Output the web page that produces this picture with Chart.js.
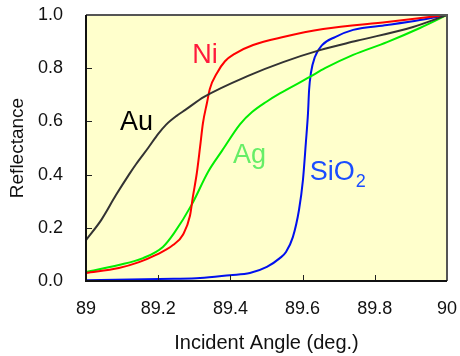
<!DOCTYPE html>
<html>
<head>
<meta charset="utf-8">
<script src="https://cdn.jsdelivr.net/npm/chart.js@4.4.0/dist/chart.umd.min.js"></script>
<style>
  body { margin: 0; background: #fff; }
  canvas { display: block; }
</style>
</head>
<body>
<canvas id="myChart" width="460" height="356"></canvas>
<script>
// values
const xTicks = [89, 89.2, 89.4, 89.6, 89.8, 90];
const yTicks = [0, 0.2, 0.4, 0.6, 0.8, 1.0];

const auX = [89.00, 89.042, 89.083, 89.119, 89.139, 89.172, 89.20, 89.222, 89.25, 89.277, 89.327, 89.454, 89.546, 89.648, 89.75, 89.906, 90.00];
const auY = [0.154, 0.229, 0.323, 0.40, 0.44, 0.50, 0.553, 0.588, 0.620, 0.645, 0.692, 0.774, 0.823, 0.868, 0.903, 0.955, 1.0];

const niX = [89.000, 89.091, 89.147, 89.194, 89.241, 89.269, 89.288, 89.296, 89.307, 89.316, 89.324, 89.335, 89.343, 89.363, 89.385, 89.413, 89.463, 89.546, 89.657, 89.834, 90.000];
const niY = [0.030, 0.049, 0.071, 0.098, 0.135, 0.175, 0.245, 0.316, 0.406, 0.504, 0.594, 0.669, 0.722, 0.782, 0.826, 0.855, 0.887, 0.917, 0.947, 0.974, 1.000];

const agX = [89.000, 89.091, 89.158, 89.213, 89.244, 89.294, 89.338, 89.377, 89.427, 89.460, 89.500, 89.537, 89.620, 89.662, 89.740, 89.834, 89.925, 90.000];
const agY = [0.034, 0.060, 0.086, 0.128, 0.180, 0.290, 0.410, 0.490, 0.590, 0.635, 0.674, 0.705, 0.767, 0.800, 0.850, 0.898, 0.951, 1.000];

const sioX = [89.000, 89.244, 89.316, 89.399, 89.454, 89.501, 89.537, 89.554, 89.573, 89.590, 89.601, 89.609, 89.615, 89.618, 89.623, 89.634, 89.654, 89.690, 89.740, 89.834, 89.925, 90.000];
const sioY = [0.003, 0.008, 0.011, 0.022, 0.030, 0.053, 0.086, 0.109, 0.165, 0.267, 0.380, 0.519, 0.632, 0.718, 0.782, 0.842, 0.887, 0.917, 0.944, 0.962, 0.981, 1.000];

// curve labels, in data coordinates (left edge, baseline)
const labels = [
    {text: 'Ni', x: 89.294, y: 0.82, color: '#ff1a3c'},
    {text: 'Au', x: 89.094, y: 0.568, color: '#000000'},
    {text: 'Ag', x: 89.407, y: 0.444, color: '#66ee66'},
    {text: 'SiO', sub: '2', x: 89.62, y: 0.38, color: '#1a4dff'}
];

const FONT = '"Liberation Sans", Arial, sans-serif';

function toPoints(xs, ys) {
    return xs.map((x, i) => ({x: x, y: ys[i]}));
}

function noPad(scale) {
    scale.paddingLeft = 0;
    scale.paddingRight = 0;
    scale.paddingTop = 0;
    scale.paddingBottom = 0;
}

const framePlugin = {
    id: 'frame',
    beforeDatasetsDraw(chart) {
        const {ctx, chartArea: a} = chart;
        ctx.save();
        ctx.fillStyle = '#ffffcc';
        ctx.fillRect(a.left, a.top, a.right - a.left, a.bottom - a.top);
        ctx.restore();
    },
    afterDatasetsDraw(chart) {
        const {ctx, chartArea: a, scales} = chart;
        ctx.save();
        // inward tick marks
        ctx.strokeStyle = '#222';
        ctx.lineWidth = 1;
        ctx.beginPath();
        xTicks.forEach(v => {
            const px = Math.round(scales.x.getPixelForValue(v)) + 0.5;
            ctx.moveTo(px, a.bottom);
            ctx.lineTo(px, a.bottom - 6);
        });
        yTicks.forEach(v => {
            const py = Math.round(scales.y.getPixelForValue(v)) + 0.5;
            ctx.moveTo(a.left, py);
            ctx.lineTo(a.left + 6, py);
        });
        ctx.stroke();
        // frame
        ctx.lineWidth = 2;
        ctx.strokeStyle = '#555';
        ctx.beginPath();
        ctx.moveTo(a.left, a.top);
        ctx.lineTo(a.right, a.top);
        ctx.lineTo(a.right, a.bottom);
        ctx.stroke();
        ctx.strokeStyle = '#111';
        ctx.beginPath();
        ctx.moveTo(a.left, a.top);
        ctx.lineTo(a.left, a.bottom);
        ctx.lineTo(a.right, a.bottom);
        ctx.stroke();

        // curve labels
        ctx.textBaseline = 'alphabetic';
        ctx.textAlign = 'left';
        labels.forEach(l => {
            const px = scales.x.getPixelForValue(l.x);
            const py = scales.y.getPixelForValue(l.y);
            ctx.fillStyle = l.color;
            ctx.font = '27px ' + FONT;
            ctx.fillText(l.text, px, py);
            if (l.sub) {
                const w = ctx.measureText(l.text).width;
                ctx.font = '18px ' + FONT;
                ctx.fillText(l.sub, px + w + 1, py + 7);
            }
        });
        ctx.restore();
    }
};

const ctx = document.getElementById('myChart').getContext('2d');

const chart = new Chart(ctx, {
    type: 'line',
    data: {
        datasets: [
            {label: 'Au', data: toPoints(auX, auY), borderColor: '#333333'},
            {label: 'Ni', data: toPoints(niX, niY), borderColor: '#ff0000'},
            {label: 'Ag', data: toPoints(agX, agY), borderColor: '#00ee00'},
            {label: 'SiO2', data: toPoints(sioX, sioY), borderColor: '#0010ee'}
        ]
    },
    options: {
        responsive: false,
        animation: false,
        layout: {padding: {left: 0, right: 13, top: 15, bottom: 0}},
        elements: {
            point: {radius: 0},
            line: {borderWidth: 2, cubicInterpolationMode: 'monotone'}
        },
        plugins: {
            legend: {display: false},
            tooltip: {enabled: false}
        },
        scales: {
            x: {
                type: 'linear',
                min: 89,
                max: 90,
                afterFit(scale) { scale.height = 75; noPad(scale); },
                afterBuildTicks(scale) { scale.ticks = xTicks.map(v => ({value: v})); },
                grid: {display: false, drawTicks: false},
                border: {display: false},
                ticks: {
                    padding: 17,
                    color: '#111',
                    font: {family: FONT, size: 18},
                    callback: v => String(+v.toFixed(1))
                },
                title: {
                    display: true,
                    text: 'Incident Angle (deg.)',
                    color: '#111',
                    font: {family: FONT, size: 20},
                    padding: {top: 0, bottom: 1}
                }
            },
            y: {
                min: 0,
                max: 1,
                afterFit(scale) { scale.width = 86; noPad(scale); },
                afterBuildTicks(scale) { scale.ticks = yTicks.map(v => ({value: v})); },
                grid: {display: false, drawTicks: false},
                border: {display: false},
                ticks: {
                    padding: 23,
                    color: '#111',
                    font: {family: FONT, size: 18},
                    callback: v => v.toFixed(1)
                },
                title: {
                    display: true,
                    text: 'Reflectance',
                    color: '#111',
                    font: {family: FONT, size: 19},
                    padding: {top: 6, bottom: 0}
                }
            }
        }
    },
    plugins: [framePlugin]
});
</script>
</body>
</html>
